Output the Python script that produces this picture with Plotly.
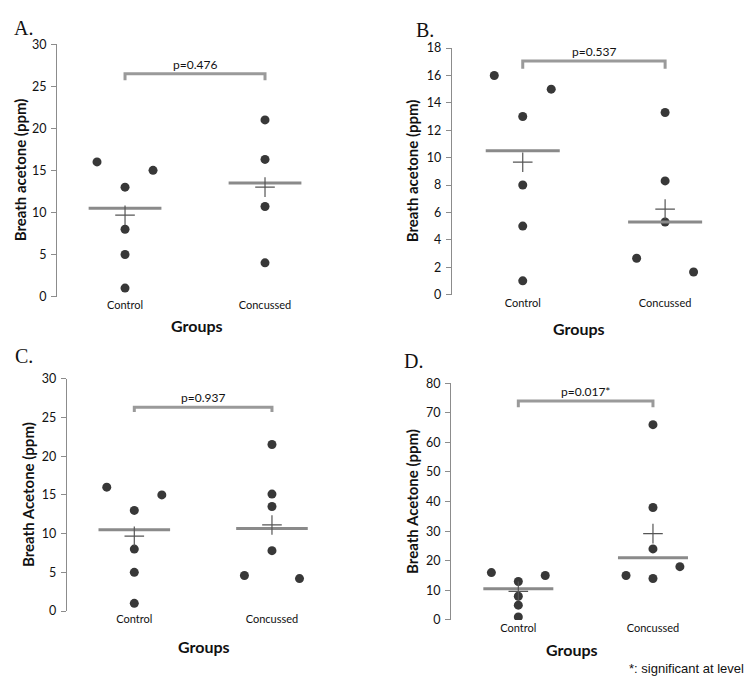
import numpy as np
import plotly.graph_objects as go

# ---- data ----
groups = ["Control", "Concussed"]

a_control = [16, 13, 15, 8, 5, 1]
a_concussed = [21, 16.3, 10.7, 4]
b_control = [16, 13, 15, 8, 5, 1]
b_concussed = [13.3, 8.3, 5.3, 2.65, 1.65]
c_control = [16, 13, 15, 8, 5, 1]
c_concussed = [21.5, 15.1, 13.5, 7.8, 4.6, 4.2]
d_control = [16, 13, 15, 8, 5, 1]
d_concussed = [66, 38, 24, 14, 15, 18]

# side placement of points (-1 left, 0 centre, 1 right)
control_side = [-1, 0, 1, 0, 0, 0]
a_conc_side = [0, 0, 0, 0]
b_conc_side = [0, 0, 0, -1, 1]
c_conc_side = [0, 0, 0, 0, -1, 1]
d_conc_side = [0, 0, 0, 0, -1, 1]

p_values = ["p=0.476", "p=0.537", "p=0.937", "p=0.017*"]
y_titles = ["Breath acetone (ppm)", "Breath acetone (ppm)",
            "Breath Acetone (ppm)", "Breath Acetone (ppm)"]
y_max = [30, 18, 30, 80]
y_dtick = [5, 2, 5, 10]
bracket_top = [26.5, 17.05, 26.3, 74.0]
bracket_bot = [25.7, 16.5, 25.7, 71.9]
labels = ["A.", "B.", "C.", "D."]

panels = [
    (a_control, a_concussed, a_conc_side),
    (b_control, b_concussed, b_conc_side),
    (c_control, c_concussed, c_conc_side),
    (d_control, d_concussed, d_conc_side),
]

# ---- layout geometry (paper fractions) ----
W, H = 750, 681
x_domains = [[57 / W, 335 / W], [451.7 / W, 736.3 / W],
             [66.7 / W, 340.8 / W], [451 / W, 720.3 / W]]
y_domains = [[1 - 295 / H, 1 - 37 / H], [1 - 293 / H, 1 - 41 / H],
             [1 - 616.7 / H, 1 - 379 / H], [1 - 625.7 / H, 1 - 383.7 / H]]
x_starts = [0.514, 0.501, 0.509, 0.5]
label_pos = [(12, 20), (414, 22), (13, 356), (402, 361)]
groups_pos = [(197, 325), (579, 328), (204, 653), (572, 656)]
ytitle_pos = [(20, 166), (412, 167), (28, 498), (412, 505)]

DOT = "#383838"
MED = "#8a8a8a"
BRK = "#9a9a9a"
FONT = "Lato, 'Open Sans', sans-serif"
JIT = 0.2
HALF = 0.26

fig = go.Figure()
annotations = []

for i, (ctrl, conc, conc_side) in enumerate(panels):
    xa = "x" if i == 0 else f"x{i + 1}"
    ya = "y" if i == 0 else f"y{i + 1}"
    for gi, (vals, side) in enumerate([(ctrl, control_side), (conc, conc_side)]):
        pos = gi + 1
        xs = [pos + s * JIT for s in side]
        fig.add_trace(go.Scatter(
            x=xs, y=vals, mode="markers", xaxis=xa, yaxis=ya,
            marker=dict(color=DOT, size=9), showlegend=False, hoverinfo="y"))
        med = float(np.median(vals))
        fig.add_trace(go.Scatter(
            x=[pos - HALF, pos + HALF], y=[med, med], mode="lines",
            xaxis=xa, yaxis=ya, line=dict(color=MED, width=3),
            showlegend=False, hoverinfo="skip"))
        mean = float(np.mean(vals))
        fig.add_trace(go.Scatter(
            x=[pos], y=[mean], mode="markers", xaxis=xa, yaxis=ya,
            marker=dict(symbol="cross-thin", size=14,
                        line=dict(color="#555555", width=1.2)),
            showlegend=False, hoverinfo="y"))
    # bracket
    fig.add_trace(go.Scatter(
        x=[1, 1, 2, 2], y=[bracket_bot[i], bracket_top[i], bracket_top[i], bracket_bot[i]],
        mode="lines", xaxis=xa, yaxis=ya, line=dict(color=BRK, width=3),
        showlegend=False, hoverinfo="skip"))
    annotations.append(dict(
        x=1.5, y=bracket_top[i], xref=xa, yref=ya, text=p_values[i],
        showarrow=False, yanchor="bottom", yshift=0,
        font=dict(family=FONT, size=12, color="#111111")))
    # panel label
    lx, ly = label_pos[i]
    annotations.append(dict(
        x=lx / W, y=1 - ly / H, xref="paper", yref="paper", text=labels[i],
        showarrow=False, xanchor="left", yanchor="middle",
        font=dict(family="'Liberation Serif', 'DejaVu Serif', serif", size=20, color="#111111")))
    gx, gy = groups_pos[i]
    annotations.append(dict(
        x=gx / W, y=1 - gy / H, xref="paper", yref="paper", text="<b>Groups</b>",
        showarrow=False, xanchor="center", yanchor="middle",
        font=dict(family=FONT, size=16, color="#111111")))
    tx, ty = ytitle_pos[i]
    annotations.append(dict(
        x=tx / W, y=1 - ty / H, xref="paper", yref="paper", text=f"<b>{y_titles[i]}</b>",
        showarrow=False, xanchor="center", yanchor="middle", textangle=-90,
        font=dict(family=FONT, size=15, color="#111111")))

    xkey = "xaxis" if i == 0 else f"xaxis{i + 1}"
    ykey = "yaxis" if i == 0 else f"yaxis{i + 1}"
    fig.update_layout(**{
        xkey: dict(domain=x_domains[i], anchor=ya, range=[x_starts[i], 2.5],
                   tickvals=[1, 2], ticktext=groups, showline=False,
                   showgrid=False, zeroline=False, ticks="",
                   tickfont=dict(family=FONT, size=11, color="#111111")),
        ykey: dict(domain=y_domains[i], anchor=xa, range=[0, y_max[i]],
                   dtick=y_dtick[i], showline=True, linecolor="#8c8c8c",
                   linewidth=1, ticks="outside", ticklen=5, tickcolor="#8c8c8c",
                   showgrid=False, zeroline=False, ticklabelstandoff=2,
                   tickfont=dict(family=FONT, size=12.5, color="#111111")),
    })

annotations.append(dict(
    x=627 / W, y=1 - 675 / H, xref="paper", yref="paper",
    text="*: significant at level", showarrow=False, xanchor="left", yanchor="middle",
    font=dict(family="'Liberation Sans', Arial, sans-serif", size=13, color="#111111")))

fig.update_layout(
    width=W, height=H, margin=dict(l=0, r=0, t=0, b=0),
    paper_bgcolor="white", plot_bgcolor="white",
    annotations=annotations, showlegend=False)

fig.write_html("out.html")
